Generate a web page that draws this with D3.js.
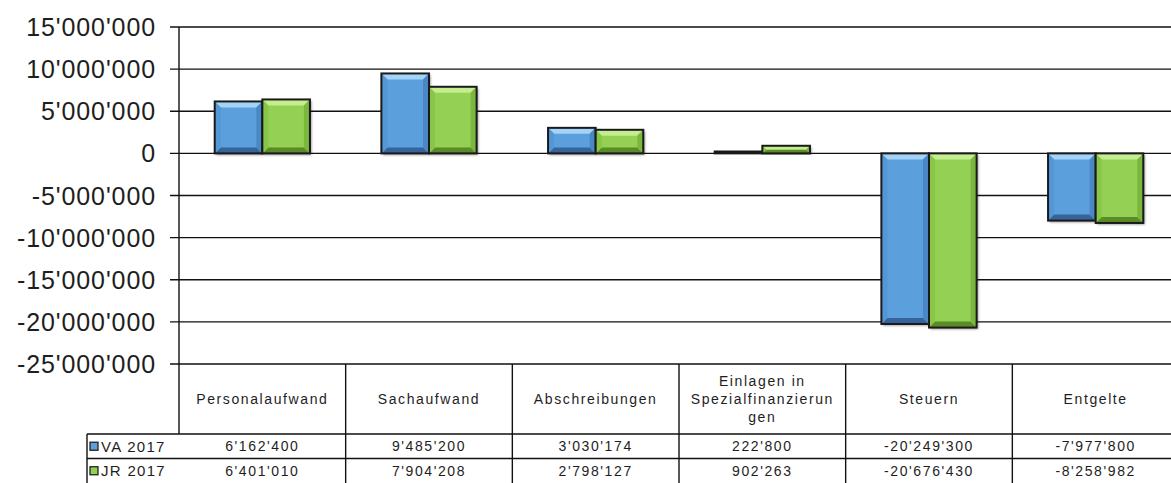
<!DOCTYPE html>
<html>
<head>
<meta charset="utf-8">
<script src="https://cdn.jsdelivr.net/npm/d3@7"></script>
<style>
  body { margin: 0; background: #fff; }
  text { font-family: "Liberation Sans", Arial, sans-serif; fill: #1e1e1e; }
</style>
</head>
<body>
<div id="chart"></div>
<script>
// chart data
let categories = ["Personalaufwand", "Sachaufwand", "Abschreibungen", "Einlagen in Spezialfinanzierungen", "Steuern", "Entgelte"];
let series = ["VA 2017", "JR 2017"];
let va_2017 = [6162400, 9485200, 3030174, 222800, -20249300, -7977800];
let jr_2017 = [6401010, 7904208, 2798127, 902263, -20676430, -8258982];
let y_ticks = [15000000, 10000000, 5000000, 0, -5000000, -10000000, -15000000, -20000000, -25000000];

let chart_width = 1171;
let chart_height = 483;

let values = [va_2017, jr_2017];
let colors = [
  { main: "#5c9fdd", top: "#a3d3f7", left: "#5397d6", right: "#4a87c4", bottom: "#36649a" },
  { main: "#93d052", top: "#c4ed92", left: "#88c648", right: "#7bb63d", bottom: "#5b8b27" }
];

let loc = d3.formatLocale({ decimal: ".", thousands: "'", grouping: [3], currency: ["", ""], minus: "-" });
let fmt = loc.format(",d");

let svg = d3.select("#chart").append("svg")
  .attr("width", chart_width)
  .attr("height", chart_height);

let defs = svg.append("defs");
let f = defs.append("filter").attr("id", "shadow")
  .attr("x", "-10%").attr("y", "-10%").attr("width", "130%").attr("height", "130%");
f.append("feDropShadow").attr("dx", 1.5).attr("dy", 1.5).attr("stdDeviation", 1.2)
  .attr("flood-color", "#000").attr("flood-opacity", 0.45);

// scales
let x_scale = d3.scaleBand()
  .domain(categories)
  .range([179, 1179]);

let x_inner = d3.scaleBand()
  .domain(series)
  .range([0, x_scale.bandwidth()])
  .paddingOuter(0.75);

let y_scale = d3.scaleLinear()
  .domain([-25000000, 15000000])
  .range([364, 27]);

let table_top = y_scale(-25000000);
let header_bottom = 434;
let row_h = 24.5;

// gridlines + tick marks
svg.append("g").selectAll("line")
  .data(y_ticks)
  .enter().append("line")
  .attr("x1", 170).attr("x2", chart_width)
  .attr("y1", d => y_scale(d)).attr("y2", d => y_scale(d))
  .attr("stroke", "#111").attr("stroke-width", 1.4);

// y labels
svg.append("g").selectAll("text")
  .data(y_ticks)
  .enter().append("text")
  .attr("x", 156)
  .attr("y", d => y_scale(d) + 9)
  .attr("text-anchor", "end")
  .style("font-size", "25px")
  .style("letter-spacing", "0.9px")
  .text(d => fmt(d));

// axis line
svg.append("line")
  .attr("x1", 179).attr("x2", 179)
  .attr("y1", y_scale(15000000)).attr("y2", header_bottom)
  .attr("stroke", "#111").attr("stroke-width", 1.4);

// bars (bevelled like the spreadsheet)
function bevel(g, x, y, w, h, c) {
  let b = Math.min(6, h / 2.2, w / 2.2);
  g.append("rect").attr("x", x).attr("y", y).attr("width", w).attr("height", h)
    .attr("fill", c.main).attr("filter", "url(#shadow)");
  let poly = (pts, col) => g.append("polygon").attr("points", pts.map(p => p.join(",")).join(" ")).attr("fill", col);
  poly([[x, y], [x + w, y], [x + w - b, y + b], [x + b, y + b]], c.top);
  poly([[x, y + h], [x + w, y + h], [x + w - b, y + h - b], [x + b, y + h - b]], c.bottom);
  poly([[x, y], [x + b, y + b], [x + b, y + h - b], [x, y + h]], c.left);
  poly([[x + w, y], [x + w - b, y + b], [x + w - b, y + h - b], [x + w, y + h]], c.right);
  g.append("rect").attr("x", x).attr("y", y).attr("width", w).attr("height", h)
    .attr("fill", "none").attr("stroke", "#1a1a1a").attr("stroke-width", 2);
}

let bars = svg.append("g");
categories.forEach(function (cat, i) {
  series.forEach(function (s, j) {
    let v = values[j][i];
    let y0 = y_scale(Math.max(0, v));
    let y1 = y_scale(Math.min(0, v));
    bevel(bars.append("g"), x_scale(cat) + x_inner(s), y0, x_inner.bandwidth(), Math.max(y1 - y0, 1.5), colors[j]);
  });
});

// data table
let tbl = svg.append("g");
let line = (x1, y1, x2, y2) => tbl.append("line")
  .attr("x1", x1).attr("y1", y1).attr("x2", x2).attr("y2", y2)
  .attr("stroke", "#111").attr("stroke-width", 1.4);

categories.forEach(function (cat) {
  line(x_scale(cat) + x_scale.bandwidth(), table_top, x_scale(cat) + x_scale.bandwidth(), chart_height);
});
line(87, header_bottom, chart_width, header_bottom);
line(87, header_bottom + row_h, chart_width, header_bottom + row_h);
line(87, header_bottom, 87, chart_height);

// header labels, wrapped to the cell width like the spreadsheet does
function wrap_text(str, max_w) {
  let probe = tbl.append("text").style("font-size", "14px").style("letter-spacing", "1.6px");
  let lines = [];
  let cur = "";
  let words = str.split(" ");
  words.forEach(function (w) {
    let trial = cur ? cur + " " + w : w;
    probe.text(trial);
    if (probe.node().getComputedTextLength() <= max_w) { cur = trial; return; }
    if (cur) { lines.push(cur); cur = ""; }
    // break long word by characters
    let part = "";
    for (let ch of w) {
      probe.text(part + ch);
      if (probe.node().getComputedTextLength() > max_w && part) { lines.push(part); part = ch; }
      else part += ch;
    }
    cur = part;
  });
  if (cur) lines.push(cur);
  probe.remove();
  return lines;
}

categories.forEach(function (cat) {
  let lines = wrap_text(cat, 150);
  let cx = x_scale(cat) + x_scale.bandwidth() / 2;
  let cy = (table_top + header_bottom) / 2;
  let lh = 18;
  let t = tbl.append("text")
    .attr("text-anchor", "middle")
    .style("font-size", "14px")
    .style("letter-spacing", "1.6px");
  lines.forEach(function (l, k) {
    t.append("tspan").attr("x", cx)
      .attr("y", cy + 5 + (k - (lines.length - 1) / 2) * lh)
      .text(l);
  });
});

// value rows + legend keys
series.forEach(function (s, j) {
  let ry = header_bottom + j * row_h;
  tbl.append("rect")
    .attr("x", 90).attr("y", ry + row_h / 2 - 4)
    .attr("width", 8).attr("height", 8)
    .attr("fill", colors[j].main).attr("stroke", "#222").attr("stroke-width", 1.3);
  tbl.append("text")
    .attr("x", 101).attr("y", ry + row_h / 2 + 5.5)
    .style("font-size", "15px")
    .style("letter-spacing", "1.3px")
    .text(s);
  categories.forEach(function (cat, i) {
    tbl.append("text")
      .attr("x", x_scale(cat) + x_scale.bandwidth() / 2)
      .attr("y", ry + row_h / 2 + 5)
      .attr("text-anchor", "middle")
      .style("font-size", "14px")
      .style("letter-spacing", "1.6px")
      .text(fmt(values[j][i]));
  });
});
</script>
</body>
</html>
